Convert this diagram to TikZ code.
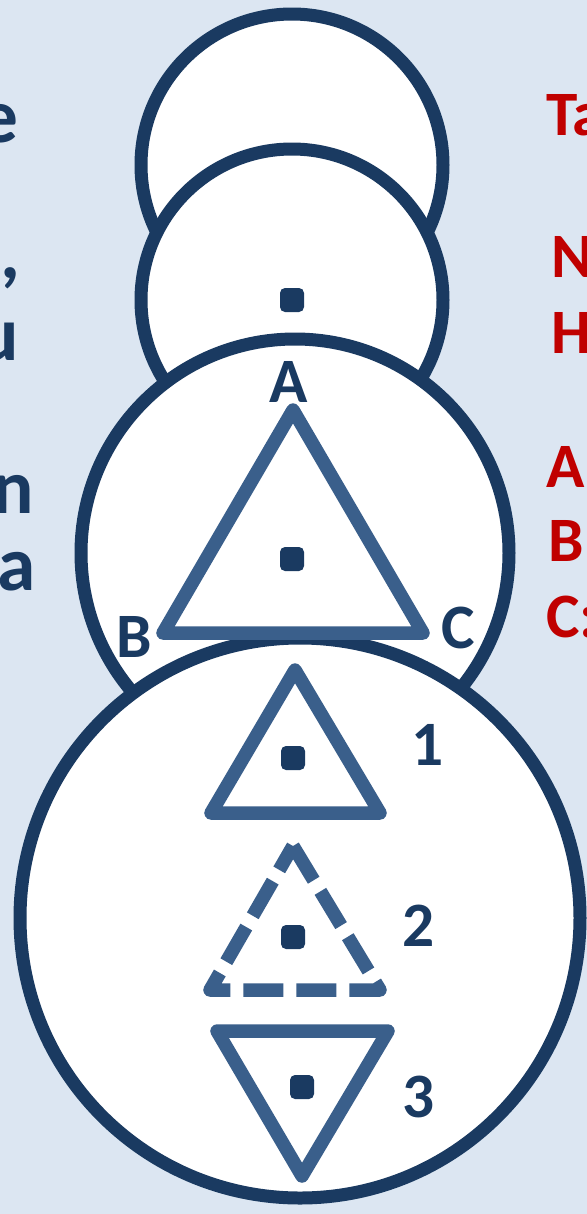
\documentclass[tikz,border=0pt]{standalone}
\usepackage{fontspec}
\setmainfont{Carlito}
\definecolor{navy}{RGB}{26,58,97}
\definecolor{steel}{RGB}{58,95,139}
\definecolor{paper}{RGB}{220,230,242}
\definecolor{alert}{RGB}{192,0,0}
\newcommand\capfont{\fontsize{36}{40}\selectfont\bfseries}
\newcommand\sidefont{\fontsize{44}{50}\selectfont\bfseries}
\tikzset{
    ring/.style={draw=navy, fill=white, line width=.26cm},
    tri/.style={draw=steel, line width=.27cm, line join=round},
    dot/.style={fill=navy, rounded corners=.1cm},
    lbl/.style={text=navy, font=\capfont, inner sep=0},
    side/.style={text=navy, font=\sidefont, inner sep=0, anchor=base east},
    note/.style={text=alert, font=\capfont, inner sep=0, anchor=base west},
}
\begin{document}
\begin{tikzpicture}[x=.02cm, y=-.02cm]
    \fill[paper] (0,0) rectangle (587,1214);
    \useasboundingbox (0,0) rectangle (587,1214);
    \clip (0,0) rectangle (587,1214);
    % rings, back to front
    \draw[ring] (292,165) circle (151);
    \draw[ring] (292,300) circle (151);
    \draw[ring] (295,553) circle (214);
    \draw[ring] (300,918) circle (280);
    % triangle ABC
    \coordinate (A) at (293,410);
    \coordinate (B) at (163,633);
    \coordinate (C) at (423,633);
    \draw[tri] (A) -- (B) -- (C) -- cycle;
    \node[lbl] (lA) at (289,382) {A};
    \node[lbl] (lB) at (134,637) {B};
    \node[lbl] (lC) at (458,628) {C};
    % small triangles
    \draw[tri] (295,670) -- (380,813) -- (211,813) -- cycle;
    \draw[tri, dash pattern=on .8cm off .26cm] (293,846) -- (380,990) -- (210,990) -- cycle;
    \draw[tri] (302,1176) -- (217,1031) -- (388,1031) -- cycle;
    \node[lbl] (n1) at (428,745) {1};
    \node[lbl] (n2) at (419,926) {2};
    \node[lbl] (n3) at (419,1097) {3};
    % centres
    \foreach \cx/\cy in {292/300, 292/559, 293/758, 293/937, 302/1087}
        \path[dot] (\cx-12,\cy-12) rectangle (\cx+12,\cy+12);
    % cut-off text at the sides
    \node[side] (s1) at (19,142) {e};
    \node[side] (s2) at (21,278) {,};
    \node[side] (s3) at (19,360) {u};
    \node[side] (s4) at (34,513) {n};
    \node[side] (s5) at (36,590) {ya};
    \node[note] (r1) at (546,135) {Ta};
    \node[note] (r2) at (551,277) {N};
    \node[note] (r3) at (551,353) {H};
    \node[note] (r4) at (546,487) {A};
    \node[note] (r5) at (548,561) {B};
    \node[note] (r6) at (546,637) {C:};
\end{tikzpicture}
\end{document}
